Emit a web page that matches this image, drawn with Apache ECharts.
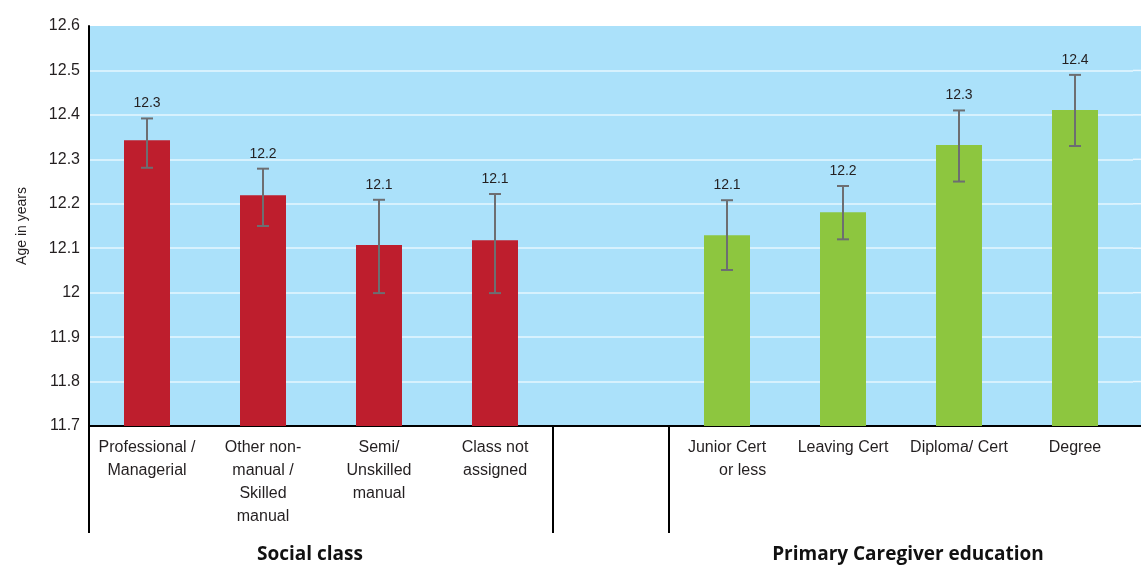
<!DOCTYPE html>
<html>
<head>
<meta charset="utf-8">
<script src="https://cdn.jsdelivr.net/npm/echarts@6/dist/echarts.min.js"></script>
<style>
html,body{margin:0;padding:0;background:#fff;}
#chart{width:1141px;height:566px;}
</style>
</head>
<body>
<div id="chart"></div>
<script>
// ---- data ----
var categories = ['Professional /\nManagerial', 'Other non-\nmanual /\nSkilled\nmanual', 'Semi/\nUnskilled\nmanual', 'Class not\nassigned', '', 'Junior Cert\nor less', 'Leaving Cert', 'Diploma/ Cert', 'Degree'];
var socialClassValues = [12.343, 12.219, 12.107, 12.118, null, null, null, null, null];
var educationValues   = [null, null, null, null, null, 12.129, 12.181, 12.332, 12.411];
var errorLower = [12.281, 12.150, 11.999, 11.999, null, 12.051, 12.120, 12.250, 12.330];
var errorUpper = [12.392, 12.279, 12.209, 12.222, null, 12.208, 12.240, 12.410, 12.490];
var valueLabels = ['12.3', '12.2', '12.1', '12.1', '', '12.1', '12.2', '12.3', '12.4'];
var yTicks = { min: 11.7, max: 12.6, interval: 0.1 };
var groupLabels = ['Social class', 'Primary Caregiver education'];
var separatorBoundaries = [0, 4, 5]; // separators at the left boundary of these category slots

var FONT = '"Liberation Sans", Arial, Helvetica, sans-serif';
var chart = echarts.init(document.getElementById('chart'));

var errorData = categories.map(function (c, i) {
  return [i, errorLower[i], errorUpper[i], valueLabels[i]];
}).filter(function (d) { return d[1] != null; });

var option = {
  animation: false,
  backgroundColor: '#ffffff',
  grid: { left: 89, right: 8, top: 26, bottom: 140, show: true, backgroundColor: '#ABE1FA', borderWidth: 0 },
  xAxis: {
    type: 'category',
    data: categories,
    boundaryGap: true,
    axisLine: { show: true, lineStyle: { color: '#000', width: 2 } },
    axisTick: { show: false },
    axisLabel: {
      interval: 0, fontFamily: FONT, fontSize: 16, color: '#231F20', lineHeight: 23, margin: 10,
      formatter: function (v, i) {
        if (i === 5) return '{r|Junior Cert}\n{r|or less}';
        return v;
      },
      rich: { r: { align: 'right', fontFamily: FONT, fontSize: 16, color: '#231F20', lineHeight: 23 } }
    },
    splitLine: { show: false }
  },
  yAxis: {
    type: 'value',
    min: yTicks.min, max: yTicks.max, interval: yTicks.interval,
    name: 'Age in years', nameLocation: 'middle', nameGap: 60, nameRotate: 90,
    nameTextStyle: { fontFamily: FONT, fontSize: 14, color: '#231F20' },
    axisLine: { show: true, lineStyle: { color: '#000', width: 2 } },
    axisTick: { show: false },
    axisLabel: {
      fontFamily: FONT, fontSize: 16, color: '#231F20', margin: 9,
      formatter: function (v) { return String(parseFloat(v.toFixed(1))); }
    },
    splitLine: { show: true, showMaxLine: false, lineStyle: { color: '#E6F6FE', width: 1.5 } }
  },
  series: [
    { type: 'bar', data: socialClassValues, barWidth: 46, barGap: '-100%', itemStyle: { color: '#BE1E2D' }, z: 2 },
    { type: 'bar', data: educationValues, barWidth: 46, barGap: '-100%', itemStyle: { color: '#8DC63F' }, z: 2 },
    {
      type: 'custom', z: 5,
      data: errorData,
      encode: { x: 0, y: [1, 2] },
      renderItem: function (params, api) {
        var x = api.value(0);
        var lo = api.coord([x, api.value(1)]);
        var hi = api.coord([x, api.value(2)]);
        var cap = 6;
        var st = { stroke: '#6D6E71', lineWidth: 2 };
        return {
          type: 'group',
          children: [
            { type: 'line', shape: { x1: hi[0], y1: hi[1], x2: lo[0], y2: lo[1] }, style: st },
            { type: 'line', shape: { x1: hi[0] - cap, y1: hi[1], x2: hi[0] + cap, y2: hi[1] }, style: st },
            { type: 'line', shape: { x1: lo[0] - cap, y1: lo[1], x2: lo[0] + cap, y2: lo[1] }, style: st },
            { type: 'text', style: { text: errorData[params.dataIndex][3], x: hi[0], y: hi[1] - 15, align: 'center', verticalAlign: 'middle', fontFamily: FONT, fontSize: 14, fill: '#231F20' } }
          ]
        };
      }
    }
  ]
};
chart.setOption(option);

// layout helpers derived from the library's scales
var W = chart.getWidth();
var bottomPx = chart.convertToPixel({ yAxisIndex: 0 }, yTicks.min);
var topPx = chart.convertToPixel({ yAxisIndex: 0 }, yTicks.max);
var c0 = chart.convertToPixel({ xAxisIndex: 0 }, 0);
var c1 = chart.convertToPixel({ xAxisIndex: 0 }, 1);
var step = c1 - c0;
var gridRight = c0 - step / 2 + step * categories.length;
var extra = [];
// extend plot background and grid lines to the right page edge
extra.push({ type: 'rect', z: -1, shape: { x: gridRight, y: topPx, width: W - gridRight, height: bottomPx - topPx }, style: { fill: '#ABE1FA' } });
var nTicks = Math.round((yTicks.max - yTicks.min) / yTicks.interval);
for (var k = 1; k < nTicks; k++) {
  var yy = chart.convertToPixel({ yAxisIndex: 0 }, yTicks.min + k * yTicks.interval);
  extra.push({ type: 'line', z: 0, shape: { x1: gridRight, y1: yy, x2: W, y2: yy }, style: { stroke: '#E6F6FE', lineWidth: 1.5 } });
}
extra.push({ type: 'line', z: 10, shape: { x1: gridRight, y1: bottomPx, x2: W, y2: bottomPx }, style: { stroke: '#000', lineWidth: 2 } });
// group separators below the axis
separatorBoundaries.forEach(function (b) {
  var x = Math.round(c0 - step / 2 + step * b);
  extra.push({ type: 'line', z: 10, shape: { x1: x, y1: bottomPx, x2: x, y2: bottomPx + 107 }, style: { stroke: '#000', lineWidth: 2 } });
});
// group titles
extra.push({ type: 'text', z: 10, style: { text: groupLabels[0], x: 310, y: 555, align: 'center', verticalAlign: 'middle', fontFamily: '"Open Sans", ' + FONT, fontSize: 19, fontWeight: 'bold', fill: '#111' } });
extra.push({ type: 'text', z: 10, style: { text: groupLabels[1], x: 908, y: 555, align: 'center', verticalAlign: 'middle', fontFamily: '"Open Sans", ' + FONT, fontSize: 19, fontWeight: 'bold', fill: '#111' } });
chart.setOption({ graphic: extra });
</script>
</body>
</html>
